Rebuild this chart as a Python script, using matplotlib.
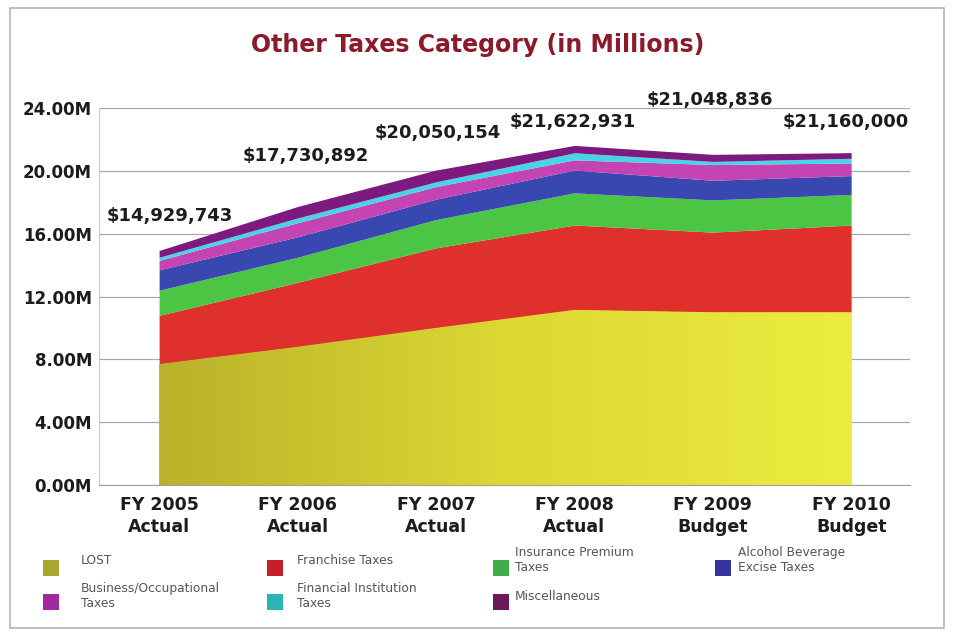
import numpy as np
import matplotlib.pyplot as plt
from matplotlib.patches import Rectangle
from matplotlib.colors import LinearSegmentedColormap

plt.rcParams['font.family'] = ['DejaVu Sans']

years = ['FY 2005\nActual', 'FY 2006\nActual', 'FY 2007\nActual',
         'FY 2008\nActual', 'FY 2009\nBudget', 'FY 2010\nBudget']
totals = [14929743, 17730892, 20050154, 21622931, 21048836, 21160000]

# revenue by category, millions
lost = [7.70, 8.80, 10.00, 11.15, 11.00, 11.00]
franchise = [3.10, 4.10, 5.10, 5.40, 5.10, 5.55]
insurance = [1.60, 1.60, 1.80, 2.05, 2.05, 1.95]
alcohol = [1.30, 1.30, 1.30, 1.45, 1.25, 1.20]
business = [0.60, 0.90, 0.80, 0.65, 1.00, 0.80]
financial = [0.20, 0.30, 0.30, 0.45, 0.20, 0.30]
misc = [0.43, 0.73, 0.75, 0.47, 0.45, 0.36]

names = ['LOST', 'Franchise Taxes', 'Insurance Premium\nTaxes',
         'Alcohol Beverage\nExcise Taxes', 'Business/Occupational\nTaxes',
         'Financial Institution\nTaxes', 'Miscellaneous']
layers = [lost, franchise, insurance, alcohol, business, financial, misc]
fill_colors = ['#dede38', '#e0302c', '#4cc444', '#3848b0', '#c444b4', '#48d4e4', '#7c1a80']
key_colors = ['#a8a830', '#c41e2a', '#3fae4a', '#3535a0', '#a02aa0', '#2ab5b5', '#6a1a5a']

# label placement (points) relative to each total
label_dx = [8, 6, 1, -1, -2, -4]
label_dy = [25, 36, 27, 17, 39, 22]

fig = plt.figure(figsize=(9.54, 6.35), dpi=100)
ax = fig.add_axes([0.1038, 0.2362, 0.8502, 0.5937])

x = np.arange(len(years))
stack = np.cumsum(np.array(layers), axis=0)
base = np.zeros(len(x))

for i, top in enumerate(stack):
    poly = ax.fill_between(x, base, top, color=fill_colors[i], lw=0, zorder=2)
    if i == 0:
        # LOST band shades from olive on the left to bright yellow on the right
        cmap = LinearSegmentedColormap.from_list('lost', ['#bab22a', '#dcd834', '#ecec40'])
        grad = np.linspace(0, 1, 256).reshape(1, -1)
        img = ax.imshow(grad, cmap=cmap, aspect='auto', extent=[x[0], x[-1], 0, top.max()],
                        zorder=2.1, interpolation='bicubic')
        img.set_clip_path(poly.get_paths()[0], transform=ax.transData)
    base = top

for i, t in enumerate(totals):
    ax.annotate(f'${t:,}', (x[i], t / 1e6), xytext=(label_dx[i], label_dy[i]),
                textcoords='offset points', ha='center', va='center',
                fontsize=13, fontweight='bold', color='#1c1c1c')

ax.set_xlim(-0.434, 5.426)
ax.set_ylim(0, 24)
ax.set_yticks(np.arange(0, 25, 4))
ax.set_yticklabels([f'{v:.2f}M' for v in np.arange(0, 25, 4)])
ax.set_xticks(x)
ax.set_xticklabels(years, linespacing=1.25)
ax.tick_params(axis='both', length=0, colors='#1c1c1c')
ax.tick_params(axis='y', pad=5, labelsize=12)
ax.tick_params(axis='x', pad=8, labelsize=12.5)
for lab in ax.get_xticklabels() + ax.get_yticklabels():
    lab.set_fontweight('bold')

ax.grid(axis='y', color='#a8a8a8', lw=0.9, zorder=0)
ax.set_axisbelow(True)
for side in ['top', 'right']:
    ax.spines[side].set_visible(False)
ax.spines['left'].set_color('#c8c8c8')
ax.spines['bottom'].set_color('#a0a0a0')

fig.text(0.501, 1 - 45 / 635, 'Other Taxes Category (in Millions)', ha='center', va='center',
         fontsize=17, fontweight='bold', color='#8b1a2a')

# legend: four columns, two rows under the plot
W, H = 954, 635
key_x = [43, 267, 493, 715]
text_x = [81, 297, 515, 738]
key_y = [568, 602]
text_y = [560, 596]
for i, name in enumerate(names):
    col, row = i % 4, i // 4
    fig.add_artist(Rectangle(((key_x[col]) / W, 1 - (key_y[row] + 8) / H), 16 / W, 16 / H,
                             transform=fig.transFigure, facecolor=key_colors[i], lw=0))
    fig.text(text_x[col] / W, 1 - text_y[row] / H, name, ha='left', va='center',
             fontsize=8.8, color='#555555', linespacing=1.25)

fig.add_artist(Rectangle((10 / W, 1 - 628 / H), 934 / W, 620 / H, transform=fig.transFigure,
                         fill=False, edgecolor='#b4b4b4', lw=1.2))

fig.savefig('out.png', dpi=100)
